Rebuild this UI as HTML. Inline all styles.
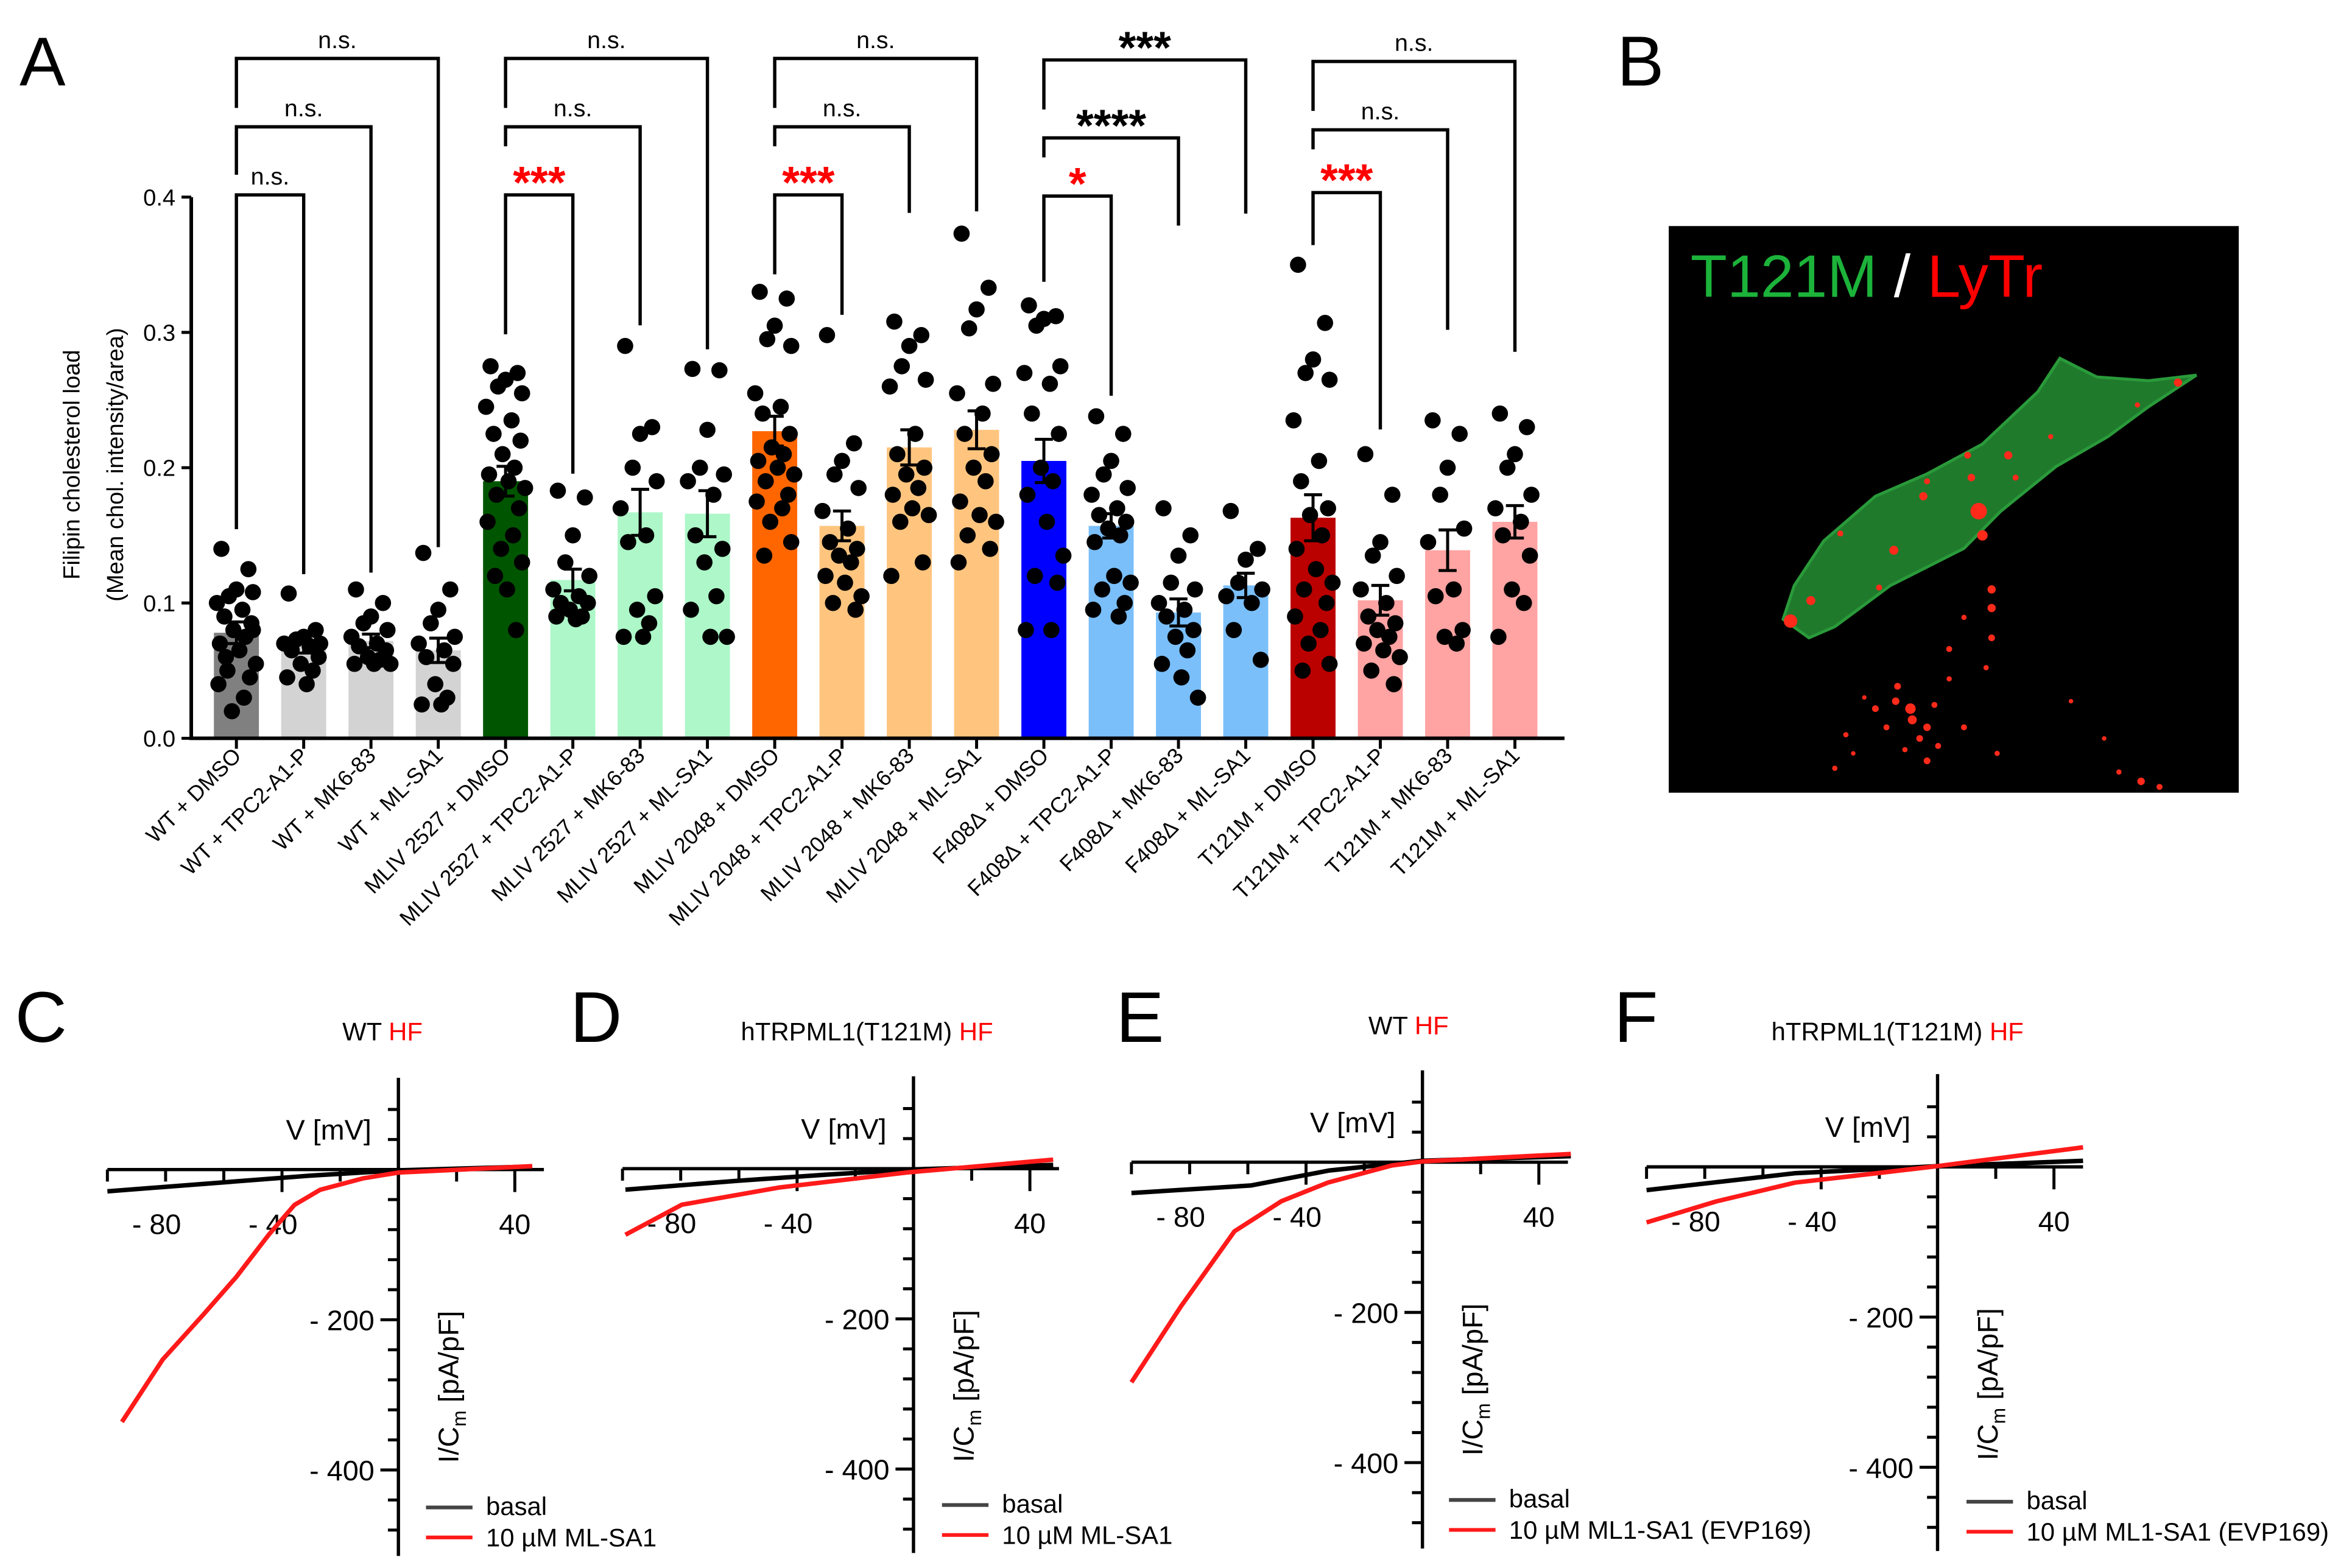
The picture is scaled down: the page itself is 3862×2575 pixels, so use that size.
<!DOCTYPE html>
<html><head><meta charset="utf-8">
<style>
html,body{margin:0;padding:0;background:#fff;}
svg{display:block;font-family:"Liberation Sans",Arial,sans-serif;}
</style></head>
<body>
<svg id="fig" width="3862" height="2575" viewBox="0 0 1568 1046" preserveAspectRatio="none" xmlns="http://www.w3.org/2000/svg">
<rect x="0" y="0" width="1568" height="1046" fill="#fff"/>
<g id="panelA"></g>
<g id="panelB"></g>
<g id="panelIV"></g>
</svg>
<script>
// ---------- Panel A data ----------
const categories = ["WT + DMSO","WT + TPC2-A1-P","WT + MK6-83","WT + ML-SA1",
"MLIV 2527 + DMSO","MLIV 2527 + TPC2-A1-P","MLIV 2527 + MK6-83","MLIV 2527 + ML-SA1",
"MLIV 2048 + DMSO","MLIV 2048 + TPC2-A1-P","MLIV 2048 + MK6-83","MLIV 2048 + ML-SA1",
"F408\u0394 + DMSO","F408\u0394 + TPC2-A1-P","F408\u0394 + MK6-83","F408\u0394 + ML-SA1",
"T121M + DMSO","T121M + TPC2-A1-P","T121M + MK6-83","T121M + ML-SA1"];
const means = [0.078,0.068,0.072,0.065, 0.19,0.117,0.167,0.166, 0.227,0.157,0.215,0.228, 0.205,0.157,0.093,0.113, 0.163,0.102,0.139,0.16];
const sems = [0.008,0.005,0.005,0.009, 0.011,0.008,0.017,0.017, 0.011,0.011,0.013,0.014, 0.016,0.009,0.010,0.009, 0.017,0.011,0.015,0.012];
const barColors = ["#808080","#d3d3d3","#d3d3d3","#d3d3d3","#005500","#adf7c8","#adf7c8","#adf7c8","#ff6600","#ffc57f","#ffc57f","#ffc57f","#0000ff","#7abffa","#7abffa","#7abffa","#bb0000","#ffa3a3","#ffa3a3","#ffa3a3"];
const dots = [
[0.14,0.125,0.11,0.105,0.108,0.1,0.095,0.09,0.085,0.08,0.075,0.07,0.065,0.055,0.05,0.045,0.04,0.03,0.02,0.08,0.06],
[0.107,0.08,0.075,0.073,0.07,0.07,0.068,0.065,0.06,0.055,0.05,0.045,0.04],
[0.11,0.1,0.09,0.085,0.08,0.075,0.07,0.068,0.065,0.06,0.058,0.055,0.055,0.055],
[0.137,0.11,0.095,0.085,0.075,0.07,0.065,0.06,0.055,0.04,0.03,0.025,0.025],
[0.275,0.27,0.265,0.26,0.255,0.245,0.235,0.225,0.22,0.21,0.2,0.195,0.19,0.185,0.18,0.17,0.16,0.15,0.14,0.13,0.12,0.11,0.08],
[0.183,0.178,0.15,0.13,0.12,0.11,0.105,0.1,0.1,0.095,0.09,0.09,0.088],
[0.29,0.23,0.225,0.2,0.19,0.17,0.15,0.145,0.105,0.095,0.085,0.075,0.075],
[0.273,0.272,0.228,0.2,0.195,0.19,0.18,0.15,0.14,0.13,0.105,0.095,0.075,0.075],
[0.33,0.325,0.305,0.295,0.29,0.255,0.245,0.24,0.225,0.215,0.21,0.205,0.2,0.195,0.19,0.18,0.175,0.17,0.16,0.145,0.135],
[0.298,0.218,0.205,0.195,0.185,0.168,0.155,0.145,0.14,0.135,0.13,0.12,0.115,0.105,0.1,0.095],
[0.308,0.298,0.29,0.275,0.265,0.26,0.225,0.21,0.2,0.195,0.185,0.18,0.17,0.165,0.16,0.13,0.12],
[0.373,0.333,0.317,0.303,0.262,0.255,0.24,0.225,0.21,0.2,0.19,0.175,0.165,0.16,0.15,0.14,0.13],
[0.32,0.312,0.31,0.305,0.275,0.27,0.262,0.24,0.225,0.2,0.19,0.18,0.16,0.135,0.12,0.115,0.08,0.08],
[0.238,0.225,0.205,0.195,0.185,0.18,0.17,0.165,0.16,0.155,0.15,0.145,0.12,0.115,0.11,0.1,0.095,0.09],
[0.17,0.15,0.135,0.115,0.11,0.1,0.095,0.09,0.08,0.075,0.065,0.055,0.045,0.03],
[0.168,0.14,0.132,0.115,0.11,0.105,0.1,0.08,0.058],
[0.35,0.307,0.28,0.27,0.265,0.235,0.205,0.19,0.17,0.165,0.15,0.14,0.125,0.115,0.11,0.1,0.09,0.08,0.07,0.055,0.05],
[0.21,0.18,0.145,0.135,0.12,0.11,0.1,0.09,0.085,0.08,0.075,0.07,0.065,0.06,0.05,0.04],
[0.235,0.225,0.2,0.18,0.155,0.145,0.11,0.105,0.08,0.075,0.07],
[0.24,0.23,0.21,0.2,0.18,0.17,0.16,0.15,0.135,0.11,0.1,0.075]];
const yTicks = [0.0,0.1,0.2,0.3,0.4];
const yTickLabels = ["0.0","0.1","0.2","0.3","0.4"];
const sigLabels = [["n.s.","n.s.","n.s."],["***","n.s.","n.s."],["***","n.s.","n.s."],["*","****","***"],["***","n.s.","n.s."]];
const sigRed = [[0,0,0],[1,0,0],[1,0,0],[1,0,0],[1,0,0]];

// ---------- IV data (mV, pA/pF) ----------
const ivC_V_red=[-95,-81,-67,-55.7,-44.6,-35.7,-26.9,-12,0,46];
const ivC_I_red=[-336,-253,-193,-143,-87,-47,-27,-11.6,-4,4.5];
const ivC_V_blk=[-100,-60,-30,0,46];
const ivC_I_blk=[-29,-17,-8,-1,4];
const ivD_V_red=[-99,-79.6,-46,-2,48];
const ivD_I_red=[-88,-48,-25,-5,12];
const ivD_V_blk=[-99,-60,-30,0,48];
const ivD_I_blk=[-28,-16,-8,-1,5];
const ivE_V_red=[-100,-83,-64.6,-48.5,-32.4,-10.7,0,51];
const ivE_I_red=[-293,-192,-92,-52,-27,-4.5,1,11];
const ivE_V_blk=[-100,-59,-32,0,51];
const ivE_I_blk=[-41,-31,-11,2,8];
const ivF_V_red=[-100,-76,-49,-22,0,50];
const ivF_I_red=[-74,-46,-21,-9,1,26];
const ivF_V_blk=[-100,-49,0,50];
const ivF_I_blk=[-31,-8.5,1,8];

const NS="http://www.w3.org/2000/svg";
function mk(parent,tag,attrs,text){const e=document.createElementNS(NS,tag);for(const k in attrs)e.setAttribute(k,attrs[k]);if(text!==undefined)e.textContent=text;parent.appendChild(e);return e;}

// ---------- Panel A ----------
const A=document.getElementById('panelA');
const Y0=492.5, YS=902.5, X0=157.6, DX=44.86, BW=30;
const yS=v=>Y0-v*YS, xS=i=>X0+i*DX;
let t=mk(A,'text',{x:13,y:57,'font-size':46},'A');


const jit=[-10,8,0,-5,11,-13,4,-8,10,-2,6,-11,2,13,-6,9,-12,5,-3,11,-7,1,7];
for(let i=0;i<categories.length;i++){
  const cx=xS(i);
  const r=mk(A,'rect',{x:cx-BW/2,y:yS(means[i]),width:BW,height:Y0-yS(means[i]),fill:barColors[i]});
  
  
  dots[i].forEach((v,k)=>{
    const c=mk(A,'circle',{cx:cx+jit[k%jit.length],cy:yS(v),r:5.4,fill:'#000'});
    
    
  });
  const eb=mk(A,'path',{d:`M${cx},${yS(means[i]-sems[i])}V${yS(means[i]+sems[i])}M${cx-6},${yS(means[i]+sems[i])}H${cx+6}M${cx-6},${yS(means[i]-sems[i])}H${cx+6}`,stroke:'#000','stroke-width':2,fill:'none'});
  
  
  const tk=mk(A,'line',{x1:cx,x2:cx,y1:Y0,y2:Y0+7,stroke:'#000','stroke-width':2});
  
  
  const lb=mk(A,'text',{x:cx+4,y:505,'font-size':14.5,'text-anchor':'end',transform:`rotate(-45 ${cx+4} 505)`},categories[i]);
  
  
}
let ax=mk(A,'path',{d:`M127.5,${yS(0.4)}V${Y0}H1043`,stroke:'#000','stroke-width':2.4,fill:'none'});


yTicks.forEach((v,k)=>{
  const l=mk(A,'line',{x1:121,x2:127.5,y1:yS(v),y2:yS(v),stroke:'#000','stroke-width':2});
  
  
  const tx=mk(A,'text',{x:117,y:yS(v)+5.5,'font-size':15.5,'text-anchor':'end'},yTickLabels[k]);
  
  
});
let yt=mk(A,'text',{x:0,y:0,'font-size':15.5,'text-anchor':'middle',transform:'translate(53,310) rotate(-90)'},'Filipin cholesterol load');


yt=mk(A,'text',{x:0,y:0,'font-size':15.5,'text-anchor':'middle',transform:'translate(82,310) rotate(-90)'},'(Mean chol. intensity/area)');


// brackets
const levels=[[130,84.6,39],[130,84.6,39],[130,84.6,39],[130.8,92,40],[128.5,86.6,41]];
const midDrop=[32,13,13,13,13];
const leftLow=[353,223,183,188,163.5];
const rightEnds=[[383,382,365],[316,217,233],[210,142,141],[264,150.5,142.5],[286.5,220,234.7]];
for(let g=0;g<5;g++){
  const b=4*g, xl=xS(b);
  for(let k=0;k<3;k++){
    const lev=levels[g][k], xr=xS(b+k+1);
    const lEnd = k===0?leftLow[g]:(k===1?lev+midDrop[g]:lev+33);
    const p=mk(A,'path',{d:`M${xl},${lEnd}V${lev}H${xr}V${rightEnds[g][k]}`,stroke:'#000','stroke-width':2.2,fill:'none'});
    
    
    const lab=sigLabels[g][k], star=lab.indexOf('*')>=0;
    const tx=mk(A,'text',{x:(xl+xr)/2,y:star?lev+2:lev-7,'font-size':star?30:16,'text-anchor':'middle',fill:sigRed[g][k]?'#ff0000':'#000','font-weight':star?'bold':'normal'},lab);
    
    
  }
}

// ---------- Panel B ----------
const B=document.getElementById('panelB');
t=mk(B,'text',{x:1078,y:57,'font-size':47},'B');


const bx=z=>1112.5+z*0.246, by=z=>142.1+z*0.2486;
let im=mk(B,'rect',{x:1112.5,y:150.8,width:380,height:378,fill:'#000'});


const cellPts=[[310,1090],[340,1000],[420,880],[560,760],[700,700],[850,620],[1000,480],[1060,390],[1160,440],[1300,450],[1430,435],[1300,520],[1190,600],[1050,680],[900,800],[800,900],[600,1000],[450,1110],[380,1140]];
let cell=mk(B,'polygon',{points:cellPts.map(p=>bx(p[0])+','+by(p[1])).join(' '),fill:'#1f7a2c',stroke:'#2a9a3a','stroke-width':2});


const red=[[840,800,22],[850,865,14],[690,760,11],[610,905,12],[920,650,11],[810,650,9],[465,860,8],[385,1040,12],[330,1095,18],[570,1005,8],[1270,515,7],[1380,455,11],[1035,600,7],[700,720,8],[820,710,10],[940,710,8],[875,1010,11],[875,1060,11],[875,1140,9],[655,1330,14],[615,1310,10],[700,1380,10],[560,1330,9],[760,1170,8],[800,1085,7],[480,1400,7],[700,1470,9],[860,1220,7],[1090,1310,6],[1280,1525,10],[1220,1500,7],[450,1490,7],[890,1450,7],[620,1270,9],[680,1410,9],[660,1360,12],[720,1320,8],[590,1380,8],[530,1300,6],[760,1250,7],[640,1440,7],[800,1380,8],[1180,1410,6],[1330,1540,8],[500,1450,6],[730,1430,8]];
red.forEach(d=>{
  const c=mk(B,'circle',{cx:bx(d[0]),cy:by(d[1]),r:d[2]*0.25,fill:'#ff2a1a'});
  
  
});
t=mk(B,'text',{x:1127,y:198,'font-size':40});


mk(t,'tspan',{fill:'#1cb33a'},'T121M');
mk(t,'tspan',{fill:'#fff'},' / ');
mk(t,'tspan',{fill:'#ff0000'},'LyTr');

// ---------- IV panels ----------
const IV=document.getElementById('panelIV');
function ivPanel(o){
  const g=mk(IV,'g',{});
  
  
  const sx=v=>o.ax+v*1.94, sy=i=>o.ay-i*0.501;
  let l=mk(g,'text',{x:o.lx,y:695,'font-size':48},o.id.toUpperCase());
  
  
  l=mk(g,'text',{x:o.tx,y:o.ty,'font-size':17,'text-anchor':'middle'});
  
  
  mk(l,'tspan',{},o.title+' ');mk(l,'tspan',{fill:'#ff0000'},'HF');
  let a=mk(g,'path',{d:`M${sx(-100)},${o.ay}H${sx(50)}M${o.ax},${o.top}V${o.bot}`,stroke:'#000','stroke-width':2.2,fill:'none'});
  
  
  [-100,-80,-60,-40,-20,20,40].forEach(v=>{
    const len=(v===-40||v===40)?15:8;
    const tk=mk(g,'line',{x1:sx(v),x2:sx(v),y1:o.ay,y2:o.ay+len,stroke:'#000','stroke-width':2});
    
    
  });
  [-80,-40,40].forEach(v=>{
    const tx=mk(g,'text',{x:sx(v)-(v<0?6:0),y:o.ay+43,'font-size':19,'text-anchor':'middle'},v<0?'- '+(-v):''+v);
    
    
  });
  for(let i=80;i>=-480;i-=40){
    if(i===0)continue;
    const y=sy(i);if(y<o.top+2||y>o.bot)continue;
    const len=(i===-200||i===-400)?12:7;
    const tk=mk(g,'line',{x1:o.ax-len,x2:o.ax,y1:y,y2:y,stroke:'#000','stroke-width':2});
    
    
  }
  [-200,-400].forEach(v=>{
    const tx=mk(g,'text',{x:o.ax-16,y:sy(v)+7,'font-size':19,'text-anchor':'end'},'- '+(-v));
    
    
  });
  l=mk(g,'text',{x:o.ax-18,y:o.ay-20,'font-size':19,'text-anchor':'end'},'V [mV]');
  
  
  l=mk(g,'text',{x:0,y:0,'font-size':19,'text-anchor':'middle',transform:`translate(${o.ax+40},${o.ay+145}) rotate(-90)`});
  
  
  mk(l,'tspan',{},'I/C');mk(l,'tspan',{'font-size':13,dy:5},'m');mk(l,'tspan',{dy:-5},' [pA/pF]');
  const line=(V,I,col,name)=>{
    const p=mk(g,'polyline',{points:V.map((v,k)=>sx(v)+','+sy(I[k])).join(' '),fill:'none',stroke:col,'stroke-width':3,'stroke-linejoin':'round'});
    
    
  };
  line(o.Vb,o.Ib,'#000','basal-trace');
  line(o.Vr,o.Ir,'#ff1a1a','ml-sa1-trace');
  const lg=mk(g,'g',{});
  
  
  let e=mk(lg,'line',{x1:o.lgx,x2:o.lgx+31,y1:o.lgy,y2:o.lgy,stroke:'#444','stroke-width':2.5});
  
  
  e=mk(lg,'text',{x:o.lgx+40,y:o.lgy+5,'font-size':17},'basal');
  
  
  e=mk(lg,'line',{x1:o.lgx,x2:o.lgx+31,y1:o.lgy+20,y2:o.lgy+20,stroke:'#ff1a1a','stroke-width':2.5});
  
  
  e=mk(lg,'text',{x:o.lgx+40,y:o.lgy+26,'font-size':17},o.drug);
  
  
}
ivPanel({id:'c',lx:10,ax:265.6,ay:780.2,top:719,bot:1038,title:'WT',tx:255,ty:694,Vr:ivC_V_red,Ir:ivC_I_red,Vb:ivC_V_blk,Ib:ivC_I_blk,lgx:284,lgy:1005.6,drug:'10 \u00b5M ML-SA1'});
ivPanel({id:'d',lx:380,ax:609,ay:779.6,top:718,bot:1036,title:'hTRPML1(T121M)',tx:578,ty:694,Vr:ivD_V_red,Ir:ivD_I_red,Vb:ivD_V_blk,Ib:ivD_I_blk,lgx:628,lgy:1004,drug:'10 \u00b5M ML-SA1'});
ivPanel({id:'e',lx:744,ax:948.3,ay:775.3,top:714,bot:1033,title:'WT',tx:939,ty:690,Vr:ivE_V_red,Ir:ivE_I_red,Vb:ivE_V_blk,Ib:ivE_I_blk,lgx:966,lgy:1000.6,drug:'10 \u00b5M ML1-SA1 (EVP169)'});
ivPanel({id:'f',lx:1076,ax:1291.7,ay:778.4,top:716.5,bot:1034.7,title:'hTRPML1(T121M)',tx:1265,ty:694,Vr:ivF_V_red,Ir:ivF_I_red,Vb:ivF_V_blk,Ib:ivF_I_blk,lgx:1311,lgy:1001.8,drug:'10 \u00b5M ML1-SA1 (EVP169)'});
</script>
</body></html>
